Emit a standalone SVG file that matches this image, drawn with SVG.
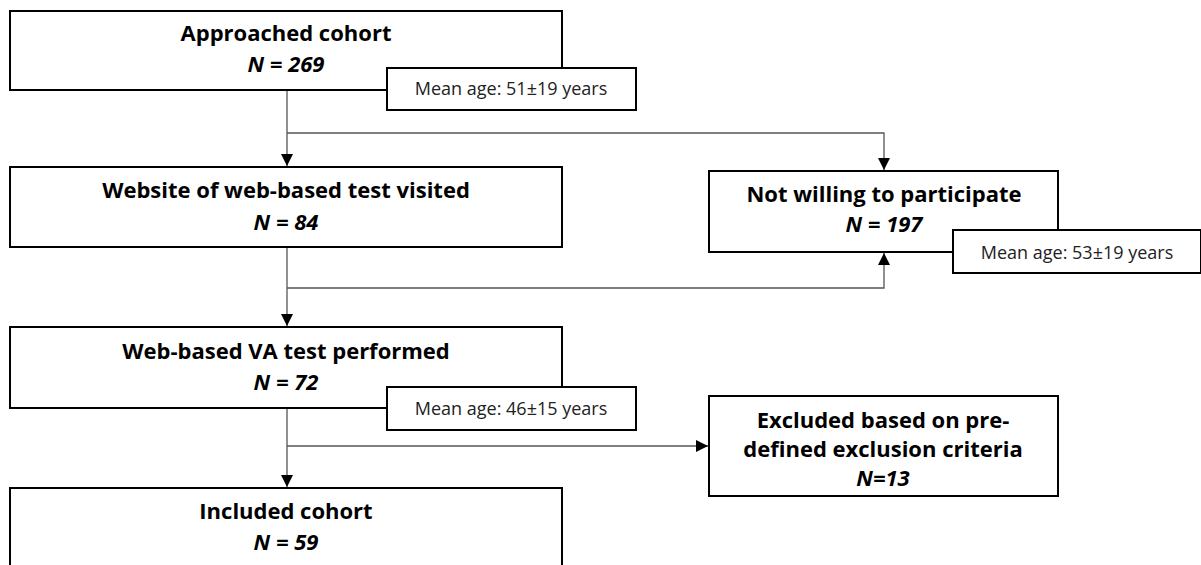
<svg xmlns="http://www.w3.org/2000/svg" width="1201" height="565" viewBox="0 0 1201 565">
<style>
.box{fill:#fff;stroke:#000;stroke-width:2}
.t{font-family:"Open Sans","Liberation Sans",sans-serif;font-weight:bold;font-size:22px;text-anchor:middle;fill:#000}
.n{font-style:italic}
.m{font-family:"Open Sans","Liberation Sans",sans-serif;font-size:18px;text-anchor:middle;fill:#222}
.c{fill:none;stroke:#555;stroke-width:1.3}
</style>
<defs>
<marker id="ah" markerWidth="12" markerHeight="12" refX="12" refY="6" orient="auto" markerUnits="userSpaceOnUse">
<path d="M0,0 L12,6 L0,12 Z" fill="#000"/>
</marker>
</defs>
<g id="connectors">
<path class="c" d="M287,90 V166" marker-end="url(#ah)"/>
<path class="c" d="M287,133 H884 V170" marker-end="url(#ah)"/>
<path class="c" d="M287,247 V326" marker-end="url(#ah)"/>
<path class="c" d="M287,288 H884 V253" marker-end="url(#ah)"/>
<path class="c" d="M287,408 V487" marker-end="url(#ah)"/>
<path class="c" d="M287,446 H708" marker-end="url(#ah)"/>
</g>
<g id="approached">
<rect class="box" x="10" y="11" width="552" height="79"/>
<text class="t" x="286" y="41">Approached cohort</text>
<text class="t n" x="286" y="72">N = 269</text>
</g>
<g id="age1">
<rect class="box" x="387" y="68" width="249" height="42"/>
<text class="m" x="511" y="95">Mean age: 51±19 years</text>
</g>
<g id="website">
<rect class="box" x="10" y="167" width="552" height="80"/>
<text class="t" x="286" y="198">Website of web-based test visited</text>
<text class="t n" x="286" y="230">N = 84</text>
</g>
<g id="notwilling">
<rect class="box" x="709" y="171" width="349" height="81"/>
<text class="t" x="884" y="202">Not willing to participate</text>
<text class="t n" x="884" y="232">N = 197</text>
</g>
<g id="age2">
<rect class="box" x="953" y="230" width="248" height="43"/>
<text class="m" x="1077" y="259">Mean age: 53±19 years</text>
</g>
<g id="vatest">
<rect class="box" x="10" y="327" width="552" height="81"/>
<text class="t" x="286" y="359">Web-based VA test performed</text>
<text class="t n" x="286" y="390">N = 72</text>
</g>
<g id="age3">
<rect class="box" x="387" y="387" width="249" height="43"/>
<text class="m" x="511" y="415">Mean age: 46±15 years</text>
</g>
<g id="excluded">
<rect class="box" x="709" y="396" width="349" height="100"/>
<text class="t" x="883" y="428">Excluded based on pre-</text>
<text class="t" x="883" y="457">defined exclusion criteria</text>
<text class="t n" x="883" y="486">N=13</text>
</g>
<g id="included">
<rect class="box" x="10" y="488" width="552" height="90"/>
<text class="t" x="286" y="519">Included cohort</text>
<text class="t n" x="286" y="550">N = 59</text>
</g>
</svg>
